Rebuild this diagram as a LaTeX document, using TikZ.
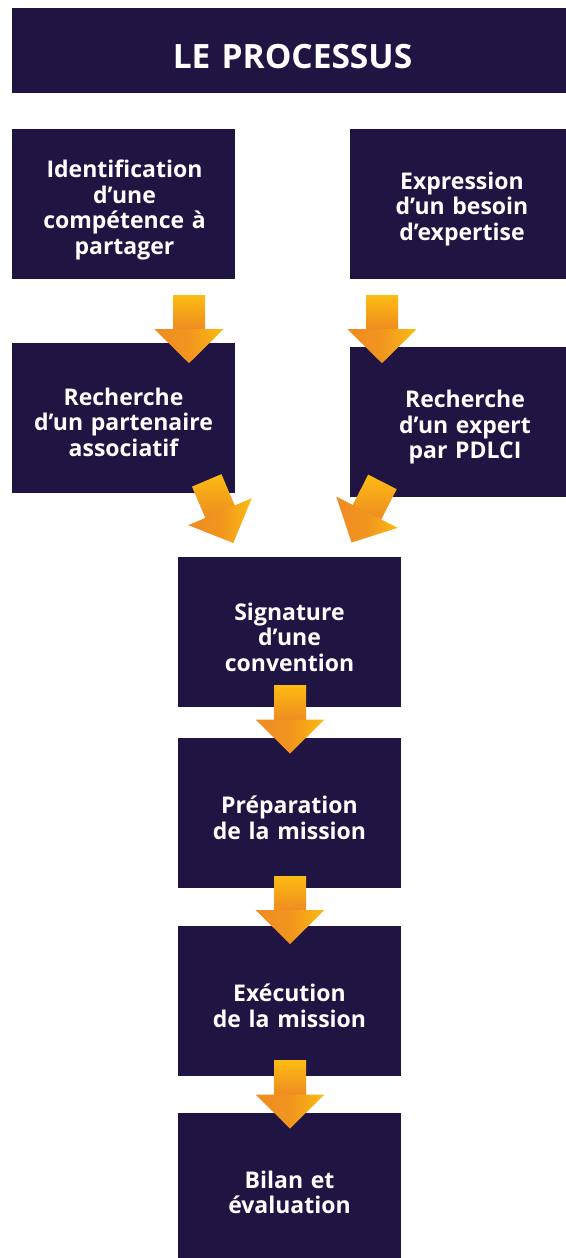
\documentclass[tikz,border=0pt]{standalone}
\usepackage{fontspec}
\setmainfont{Open Sans}
\usetikzlibrary{calc}

\definecolor{navy}{HTML}{201443}
\definecolor{arrowyellow}{HTML}{FCBC12}
\definecolor{arroworange}{HTML}{EF8B22}

\tikzset{
  box/.style={fill=navy, inner sep=0pt, minimum width=223pt, minimum height=150pt},
  boxtext/.style={text=white, inner sep=0pt, text width=215pt, align=center,
    font=\fontsize{23}{25.5}\selectfont\bfseries},
  blockarrow/.pic={
    \shade[top color=arrowyellow, bottom color=arroworange] (-16,-34) rectangle (16,0.5);
    \shade[left color=arroworange, right color=arrowyellow, middle color=arroworange!80!arrowyellow]
      (-34.5,0) -- (34.5,0) -- (0,34) -- cycle;
  }
}

\begin{document}
\begin{tikzpicture}[x=1pt, y=-1pt]
  \useasboundingbox (0,0) rectangle (565,1258);

  % Title
  \node[box, minimum width=561pt, minimum height=85pt] (title) at (292.5,50.5) {};
  \node[boxtext, text width=540pt, font=\fontsize{33.5}{38}\selectfont\bfseries]
    (title-t) at ($(title)+(0,6)$) {LE PROCESSUS};

  % Two starting branches
  \node[box] (ident) at (123.5,204) {};
  \node[boxtext] (ident-t) at ($(ident)+(1,6)$) {Identification\\d’une\\compétence à\\partager};
  \node[box, minimum width=230pt] (besoin) at (465,204) {};
  \node[boxtext] (besoin-t) at ($(besoin)+(-3,5)$) {Expression\\d’un besoin\\d’expertise};
  \node[box] (partenaire) at (123.5,418) {};
  \node[boxtext] (partenaire-t) at ($(partenaire)+(0,4)$) {Recherche\\d’un partenaire\\associatif};
  \node[box, minimum width=230pt] (expert) at (465,421.5) {};
  \node[boxtext] (expert-t) at ($(expert)+(0,6)$) {Recherche\\d’un expert\\par PDLCI};

  % Common steps
  \node[box] (convention) at (289.5,632) {};
  \node[boxtext] (convention-t) at ($(convention)+(0,5)$) {Signature\\d’une\\convention};
  \node[box] (preparation) at (289.5,813) {};
  \node[boxtext] (preparation-t) at ($(preparation)+(0,5)$) {Préparation\\de la mission};
  \node[box] (execution) at (289.5,1001) {};
  \node[boxtext] (execution-t) at ($(execution)+(0,5)$) {Exécution\\de la mission};
  \node[box, minimum height=145pt] (bilan) at (289.5,1185.5) {};
  \node[boxtext] (bilan-t) at ($(bilan)+(0,7)$) {Bilan et\\évaluation};

  % Arrows
  \pic at ($(ident.south)+(65.5,50)$) {blockarrow};
  \pic at ($(besoin.south)+(-83,50)$) {blockarrow};
  \pic[rotate=23] at ($(partenaire.south)+(96.5,18.5)$) {blockarrow};
  \pic[rotate=-27] at ($(expert.south)+(-98,15.5)$) {blockarrow};
  \pic at ($(convention.south)!0.5!(preparation.north)+(0.5,-3)$) {blockarrow};
  \pic at ($(preparation.south)!0.5!(execution.north)+(0.5,3)$) {blockarrow};
  \pic at ($(execution.south)!0.5!(bilan.north)+(0.5,0)$) {blockarrow};
\end{tikzpicture}
\end{document}
